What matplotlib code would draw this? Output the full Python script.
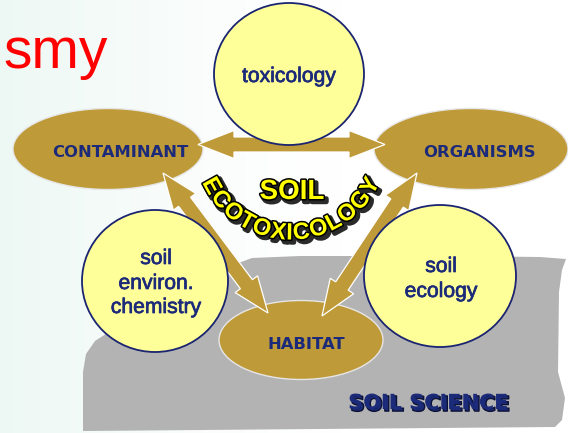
import numpy as np
import matplotlib
matplotlib.use("Agg")
import matplotlib.pyplot as plt
from matplotlib.patches import Ellipse, Polygon
import matplotlib.patheffects as pe

# ---------------- data (text content of the diagram) ----------------
title_text = "smy"
node_labels = ["CONTAMINANT", "ORGANISMS", "HABITAT"]
discipline_labels = ["toxicology", "soil\nenviron.\nchemistry", "soil\necology"]
links = [("CONTAMINANT", "ORGANISMS"), ("CONTAMINANT", "HABITAT"), ("ORGANISMS", "HABITAT")]
center_top = "SOIL"
center_arc = "ECOTOXICOLOGY"
base_label = "SOIL SCIENCE"

# ---------------- layout (pixel space, y downward) ----------------
W, H = 568, 433
node_geom = {  # cx, cy, width, height, label baseline, text x
    "CONTAMINANT": (108, 149, 190, 81, 157, 120),
    "ORGANISMS": (471, 149, 194, 81, 157, 479),
    "HABITAT": (301, 340, 164, 79, 349, 306),
}
disc_geom = {  # cx, cy, width, height, baselines, text x
    "toxicology": (289, 74, 150, 142, [82], 289),
    "soil\nenviron.\nchemistry": (155, 281, 146, 142, [264, 289, 313], 156),
    "soil\necology": (440, 276, 152, 142, [272, 297], 441),
}
arrow_tips = {
    ("CONTAMINANT", "ORGANISMS"): ((198, 144.5), (385, 144.5)),
    ("CONTAMINANT", "HABITAT"): ((163, 173), (268, 313)),
    ("ORGANISMS", "HABITAT"): ((417, 173), (322, 316)),
}

GOLD = "#BF9A38"
YELLOW = "#FFFF99"
NAVY = "#1C2A7A"
EDGE_NAVY = "#1A2470"
GREY = "#B3B3B3"

fig = plt.figure(figsize=(5.68, 4.33), dpi=100)
ax = fig.add_axes([0, 0, 1, 1])
ax.set_xlim(0, W)
ax.set_ylim(H, 0)
ax.axis("off")

# background: faint mint tint fading to white
xs = np.linspace(0, 1, 300)
t = np.clip(1 - xs / 0.6, 0, 1) ** 1.4
bg = np.ones((2, 300, 3))
tint = np.array([0.93, 0.972, 0.958])
for k in range(3):
    bg[:, :, k] = 1 - (1 - tint[k]) * t
ax.imshow(bg, extent=[0, W, H, 0], aspect="auto", zorder=0, interpolation="bilinear")

# grey soil block
soil_poly = [(83, 431), (83, 372), (86, 354), (95, 341), (112, 330), (150, 305), (200, 283),
             (228, 275), (236, 264), (252, 258), (300, 256), (450, 256), (540, 257), (566, 259),
             (562, 270), (559, 292), (558, 372), (565, 398), (562, 420), (555, 427)]
ax.add_patch(Polygon(soil_poly, closed=True, facecolor=GREY, edgecolor="none", zorder=1))

# gold ellipses
for name in node_labels:
    cx, cy, w, h, _, _ = node_geom[name]
    ax.add_patch(Ellipse((cx, cy), w, h, facecolor=GOLD, edgecolor="#e6e6e6", lw=1.0, zorder=2))


def double_arrow(a, b, shaft=7.5, head=14, hlen=36):
    a = np.array(a, float)
    b = np.array(b, float)
    u = (b - a) / np.linalg.norm(b - a)
    n = np.array([-u[1], u[0]])
    pts = [a, a + hlen * u + head * n, a + hlen * u + shaft * n,
           b - hlen * u + shaft * n, b - hlen * u + head * n, b,
           b - hlen * u - head * n, b - hlen * u - shaft * n,
           a + hlen * u - shaft * n, a + hlen * u - head * n]
    return Polygon(pts, closed=True, facecolor=GOLD, edgecolor="white", lw=0.9, zorder=3)


for link in links:
    a, b = arrow_tips[link]
    ax.add_patch(double_arrow(a, b))

# yellow discipline circles
for name in discipline_labels:
    cx, cy, w, h, _, _ = disc_geom[name]
    ax.add_patch(Ellipse((cx, cy), w, h, facecolor=YELLOW, edgecolor=EDGE_NAVY, lw=1.3, zorder=4))

# labels
for name in node_labels:
    _, _, _, _, base, tx = node_geom[name]
    ax.text(tx, base, name, ha="center", va="baseline", fontsize=11.8, fontweight="bold",
            family="DejaVu Sans", color=NAVY, zorder=6)

for name in discipline_labels:
    _, _, _, _, bases, tx = disc_geom[name]
    for line, base in zip(name.split("\n"), bases):
        ax.text(tx, base, line, ha="center", va="baseline", fontsize=15.2,
                family="Liberation Sans", color=NAVY, zorder=6,
                path_effects=[pe.Stroke(linewidth=0.5, foreground=NAVY), pe.Normal()])

ax.text(3, 68, title_text, ha="left", va="baseline", fontsize=41, family="Liberation Sans",
        color="#FF0000", zorder=6)

ax.text(428, 409, base_label, ha="center", va="baseline", fontsize=15, fontweight="bold",
        family="DejaVu Sans", color=NAVY, zorder=6,
        path_effects=[pe.Stroke(linewidth=1, foreground="#0c1235", offset=(1.5, -1.5)),
                      pe.Normal()])

# SOIL ECOTOXICOLOGY word art
word_fx = [pe.Stroke(linewidth=3.5, foreground="#2a2a2a", offset=(2, -2)),
           pe.Stroke(linewidth=2.2, foreground="black"),
           pe.Normal()]
ax.text(292, 192, center_top, ha="center", va="center", fontsize=20, fontweight="bold",
        family="Liberation Sans", color="#FFFF00", zorder=7, path_effects=word_fx)

# letters along an arch, spaced by their own widths
arc_size = 17
renderer = fig.canvas.get_renderer()
widths = []
for ch in center_arc:
    tt = ax.text(0, 0, ch, fontsize=arc_size, fontweight="bold", family="Liberation Sans")
    widths.append(tt.get_window_extent(renderer).width)
    tt.remove()
widths = np.array(widths)
cum = np.cumsum(widths) - widths / 2
frac = (cum - cum[0]) / (cum[-1] - cum[0])
arc_c = (291, 142)
arc_r = 91
a0, a1 = 151, 29
angles = a0 + (a1 - a0) * frac
for ch, th in zip(center_arc, angles):
    r = np.radians(th)
    x = arc_c[0] + arc_r * np.cos(r)
    y = arc_c[1] + arc_r * np.sin(r)
    ax.text(x, y, ch, ha="center", va="center", rotation=90 - th, rotation_mode="anchor",
            fontsize=arc_size, fontweight="bold", family="Liberation Sans", color="#FFFF00",
            zorder=7, path_effects=word_fx)

fig.savefig("out.png", dpi=100)
